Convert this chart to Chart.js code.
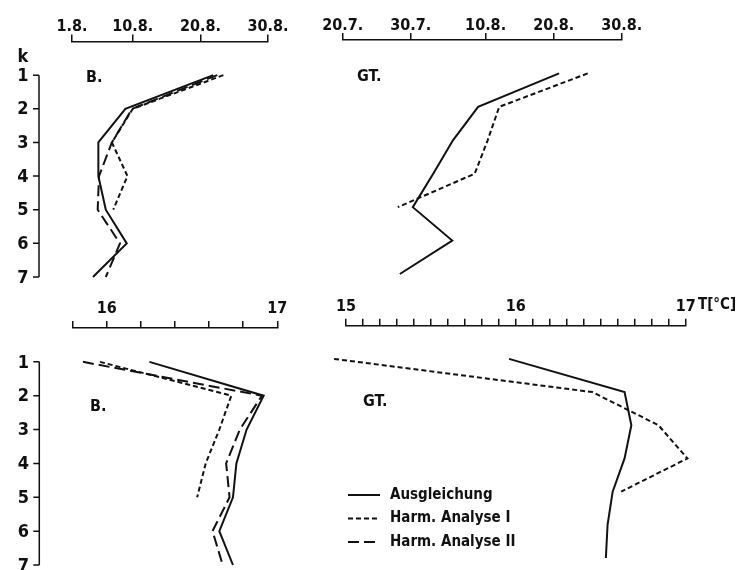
<!DOCTYPE html>
<html>
<head>
<meta charset="utf-8">
<script src="https://cdn.jsdelivr.net/npm/chart.js@4.4.1/dist/chart.umd.min.js"></script>
<style>
  body { margin: 0; background: #fff; }
  #wrap { position: relative; width: 741px; height: 570px; overflow: hidden; background: #fff; }
  canvas { position: absolute; }
</style>
</head>
<body>
<div id="wrap">
  <canvas id="dateB" width="300" height="290" style="left:0;top:0"></canvas>
  <canvas id="dateGT" width="441" height="290" style="left:300px;top:0"></canvas>
  <canvas id="tempB" width="300" height="280" style="left:0;top:290px"></canvas>
  <canvas id="tempGT" width="441" height="280" style="left:300px;top:290px"></canvas>
</div>
<script>
// --- Daten ---
const kLevels = [1, 2, 3, 4, 5, 6, 7];
const seriesNames = ['Ausgleichung', 'Harm. Analyse I', 'Harm. Analyse II'];

// Datum als Tag des Jahres (1.8. = 213)
const dateTicksB = [213, 222, 232, 242];
const dateLabelsB = ['1.8.', '10.8.', '20.8.', '30.8.'];
const dateTicksGT = [201, 211, 222, 232, 242];
const dateLabelsGT = ['20.7.', '30.7.', '10.8.', '20.8.', '30.8.'];

const dateB_ausgl = [233.9, 220.9, 216.9, 216.9, 218.0, 221.1, 216.1];
const dateB_harm1 = [235.4, 222.0, 218.9, 221.2, 219.1];
const dateB_harm2 = [234.5, 221.9, 218.9, 217.0, 216.8, 220.1, 218.0];
const dateGT_ausgl = [232.8, 220.9, 217.2, 214.3, 211.3, 217.1, 209.4];
const dateGT_harm1 = [237.0, 224.0, 222.3, 220.4, 209.1];

// Temperatur in °C
const tempTicksB = [15.8, 16.0, 16.2, 16.4, 16.6, 16.8, 17.0];
const tempLabelsB = ['', '16', '', '', '', '', '17'];
const tempTicksGT = [15.0, 15.1, 15.2, 15.3, 15.4, 15.5, 15.6, 15.7, 15.8, 15.9, 16.0,
                     16.1, 16.2, 16.3, 16.4, 16.5, 16.6, 16.7, 16.8, 16.9, 17.0];
const tempLabelsGT = ['15', '', '', '', '', '', '', '', '', '', '16',
                      '', '', '', '', '', '', '', '', '', '17'];

const tempB_ausgl = [16.25, 16.92, 16.82, 16.76, 16.74, 16.66, 16.74];
const tempB_harm1 = [15.96, 16.73, 16.66, 16.58, 16.53];
const tempB_harm2 = [15.86, 16.91, 16.78, 16.70, 16.72, 16.62, 16.68];
const tempGT_ausgl = [15.96, 16.64, 16.68, 16.64, 16.57, 16.54, 16.53];
const tempGT_harm1 = [14.93, 16.45, 16.84, 17.01, 16.62];

// --- Stil ---
const FONT = "'DejaVu Sans Condensed', 'DejaVu Sans', sans-serif";
const NUMFONT = "'Liberation Sans Narrow', 'DejaVu Sans Condensed', sans-serif";
const INK = '#111';
const dashes = [[], [5, 3], [11, 5]];

function series(values, idx) {
  return {
    label: seriesNames[idx],
    data: values.map((v, i) => ({ x: v, y: kLevels[i] })),
    borderColor: INK,
    borderWidth: 2,
    borderDash: dashes[idx],
    pointRadius: 0,
    fill: false,
    tension: 0,
    clip: false
  };
}

// k-Achse, Beschriftungen und Legende
const paperPlugin = {
  id: 'paper',
  afterDraw(chart, args, opts) {
    const ctx = chart.ctx;
    const ys = chart.scales.y;
    ctx.save();
    ctx.fillStyle = INK;
    ctx.strokeStyle = INK;

    if (opts.kAxisX != null) {
      const ax = opts.kAxisX;
      ctx.lineWidth = 1.5;
      ctx.beginPath();
      ctx.moveTo(ax, ys.getPixelForValue(kLevels[0]));
      ctx.lineTo(ax, ys.getPixelForValue(kLevels[kLevels.length - 1]));
      kLevels.forEach(k => {
        const p = ys.getPixelForValue(k);
        ctx.moveTo(ax - 6, p);
        ctx.lineTo(ax, p);
      });
      ctx.stroke();
      ctx.font = 'bold 18px ' + NUMFONT;
      ctx.textAlign = 'center';
      ctx.textBaseline = 'middle';
      kLevels.forEach(k => ctx.fillText(String(k), ax - 16, ys.getPixelForValue(k) + 1));
    }

    (opts.texts || []).forEach(t => {
      ctx.font = t.font || ('bold 16px ' + FONT);
      ctx.textAlign = t.align || 'left';
      ctx.textBaseline = 'middle';
      ctx.fillText(t.text, t.x, t.y);
    });

    if (opts.legend) {
      const lg = opts.legend;
      seriesNames.forEach((name, i) => {
        const y = lg.y + i * lg.rowH;
        ctx.lineWidth = 2;
        ctx.setLineDash(dashes[i]);
        ctx.beginPath();
        ctx.moveTo(lg.x, y);
        ctx.lineTo(lg.x + lg.len, y);
        ctx.stroke();
        ctx.setLineDash([]);
        ctx.font = 'bold 15px ' + FONT;
        ctx.textAlign = 'left';
        ctx.textBaseline = 'middle';
        ctx.fillText(name, lg.x + lg.len + 10, y);
      });
    }
    ctx.restore();
  }
};
Chart.register(paperPlugin);

function makePanel(id, cfg) {
  return new Chart(document.getElementById(id), {
    type: 'line',
    data: { datasets: cfg.datasets },
    options: {
      responsive: false,
      animation: false,
      layout: { padding: cfg.padding, autoPadding: false },
      plugins: {
        legend: { display: false },
        tooltip: { enabled: false },
        paper: cfg.paper
      },
      scales: {
        x: {
          type: 'linear',
          position: 'top',
          min: cfg.xMin,
          max: cfg.xMax,
          afterFit: s => { s.height = cfg.axisH; },
          afterBuildTicks: s => { s.ticks = cfg.ticks.map(v => ({ value: v })); },
          ticks: {
            autoSkip: false,
            maxRotation: 0,
            padding: cfg.labelPad,
            color: INK,
            font: { family: NUMFONT, size: 16, weight: 'bold' },
            callback: (v, i) => cfg.labels[i]
          },
          grid: { drawOnChartArea: false, drawTicks: true, tickLength: 7, color: INK, lineWidth: 1.5 },
          border: { display: true, color: INK, width: 1.5 }
        },
        y: { type: 'linear', display: false, reverse: true, min: 0, max: 7 }
      }
    }
  });
}

// --- Oben links: B., Datum ---
makePanel('dateB', {
  datasets: [series(dateB_harm1, 1), series(dateB_harm2, 2), series(dateB_ausgl, 0)],
  xMin: 213, xMax: 242,
  ticks: dateTicksB, labels: dateLabelsB,
  padding: { left: 72, right: 32, top: 0, bottom: 13 },
  axisH: 41.5, labelPad: -2,
  paper: {
    kAxisX: 39,
    texts: [
      { text: 'k', x: 23, y: 57, align: 'center', font: 'bold 18px ' + NUMFONT },
      { text: 'B.', x: 86, y: 78 }
    ]
  }
});

// --- Oben rechts: GT., Datum ---
makePanel('dateGT', {
  datasets: [series(dateGT_harm1, 1), series(dateGT_ausgl, 0)],
  xMin: 201, xMax: 242,
  ticks: dateTicksGT, labels: dateLabelsGT,
  padding: { left: 42.7, right: 119.3, top: 0, bottom: 16 },
  axisH: 40, labelPad: -2,
  paper: { texts: [{ text: 'GT.', x: 57, y: 77 }] }
});

// --- Unten links: B., Temperatur ---
makePanel('tempB', {
  datasets: [series(tempB_harm1, 1), series(tempB_harm2, 2), series(tempB_ausgl, 0)],
  xMin: 15.8, xMax: 17.0,
  ticks: tempTicksB, labels: tempLabelsB,
  padding: { left: 72.7, right: 22.7, top: 0, bottom: 5 },
  axisH: 38, labelPad: 3,
  paper: {
    kAxisX: 39.3,
    texts: [{ text: 'B.', x: 90, y: 117 }]
  }
});

// --- Unten rechts: GT., Temperatur ---
makePanel('tempGT', {
  datasets: [series(tempGT_harm1, 1), series(tempGT_ausgl, 0)],
  xMin: 15, xMax: 17,
  ticks: tempTicksGT, labels: tempLabelsGT,
  padding: { left: 46, right: 55.3, top: 0, bottom: 12 },
  axisH: 35.7, labelPad: 2,
  paper: {
    texts: [
      { text: 'T[°C]', x: 398, y: 15, font: 'bold 15px ' + NUMFONT },
      { text: 'GT.', x: 63, y: 112 }
    ],
    legend: { x: 48, y: 205, rowH: 23.5, len: 32 }
  }
});
</script>
</body>
</html>
